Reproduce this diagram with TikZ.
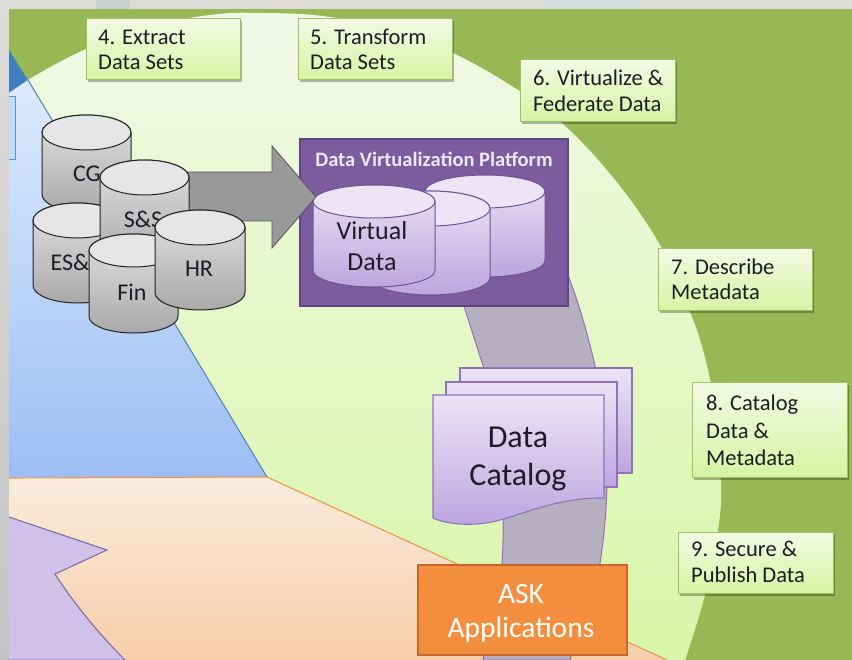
\documentclass[tikz,border=0pt]{standalone}
\usepackage{fontspec}
\setmainfont{Carlito}
\definecolor{dkgreen}{HTML}{98B855}
\definecolor{ink}{HTML}{1C1C28}
\definecolor{notetop}{HTML}{F3F9E4}
\definecolor{notebot}{HTML}{D6F4A2}
\definecolor{notebord}{HTML}{A2BF63}
\definecolor{cylA}{HTML}{E2E2E2}
\definecolor{cylB}{HTML}{A9A9A9}
\definecolor{cylT}{HTML}{E6E6E6}
\definecolor{cylE}{HTML}{222222}
\definecolor{vA}{HTML}{EAE2F4}
\definecolor{vB}{HTML}{BDA6DE}
\definecolor{vT}{HTML}{EBE5F5}
\definecolor{purpedge}{HTML}{6E5693}
\definecolor{docedge}{HTML}{8F72B8}
\definecolor{dA}{HTML}{EAE4F6}
\definecolor{dB}{HTML}{BDA6DF}
\definecolor{D0}{HTML}{C4C4C4}
\definecolor{D1}{HTML}{DEDCDA}
\definecolor{patchA}{HTML}{CDCFCF}
\definecolor{patchB}{HTML}{D3DAE2}
\definecolor{LGa}{HTML}{F2F8E6}
\definecolor{LGb}{HTML}{D8F6A8}
\definecolor{DKB}{HTML}{3F81BE}
\definecolor{BLa}{HTML}{DCEBFC}
\definecolor{BLb}{HTML}{9DBEF4}
\definecolor{BLe}{HTML}{4C7FB5}
\definecolor{ORa}{HTML}{F9ECDD}
\definecolor{ORb}{HTML}{F8CDAA}
\definecolor{ORe}{HTML}{EC954F}
\definecolor{PUa}{HTML}{CFC1E8}
\definecolor{PUe}{HTML}{7A64A4}
\definecolor{BOX}{HTML}{C4DAF9}
\definecolor{BOXe}{HTML}{5C93D0}
\definecolor{BND}{HTML}{B6AFC0}
\definecolor{PLT}{HTML}{7C5B9E}
\definecolor{PLTe}{HTML}{5E4780}
\definecolor{PLTt}{HTML}{EDE8F6}
\definecolor{ARW}{HTML}{999999}
\definecolor{ARWe}{HTML}{555555}
\definecolor{ASK}{HTML}{F38E3E}
\definecolor{ASKe}{HTML}{C6682B}
\tikzset{
  note/.style={draw=notebord,line width=1pt,top color=notetop,bottom color=notebot},
  notetext/.style={anchor=west,text=ink,font=\fontsize{22.5}{24}\selectfont,inner sep=0pt},
  graycyl/.style={draw=cylE,line width=1pt,top color=cylA,bottom color=cylB},
  purpcyl/.style={draw=purpedge,line width=1pt,top color=vA,bottom color=vB},
  graytop/.style={draw=cylE,line width=1pt,fill=cylT},
  purptop/.style={draw=purpedge,line width=1pt,fill=vT},
  shadowst/.style={fill=black,opacity=.28},
  doc/.style={draw=docedge,line width=1.1pt,top color=dA,bottom color=dB},
  cyltext/.style={text=ink,font=\fontsize{#1}{#1}\selectfont,inner sep=0pt},
}
% \cylinderdraw{style}{topstyle}{left}{right}{top}{ellipse bottom}{bottom}
\newcommand{\cylinderdraw}[7]{%
  \pgfmathsetmacro{\ccx}{(#3+#4)/2}%
  \pgfmathsetmacro{\crx}{(#4-#3)/2}%
  \pgfmathsetmacro{\cry}{(#6-#5)/2}%
  \pgfmathsetmacro{\ccy}{(#5+#6)/2}%
  \pgfmathsetmacro{\cby}{#7-\cry}%
  \path[#1] (#3,\ccy) -- (#3,\cby)
    .. controls (#3,\cby+.55*\cry) and (\ccx-.55*\crx,#7) .. (\ccx,#7)
    .. controls (\ccx+.55*\crx,#7) and (#4,\cby+.55*\cry) .. (#4,\cby)
    -- (#4,\ccy)
    .. controls (#4,\ccy-.55*\cry) and (\ccx+.55*\crx,#5) .. (\ccx,#5)
    .. controls (\ccx-.55*\crx,#5) and (#3,\ccy-.55*\cry) .. (#3,\ccy) -- cycle;
  \path[#2] (\ccx,\ccy) ellipse [x radius=\crx, y radius=\cry];
}
\begin{document}
\begin{tikzpicture}[x=1pt,y=-1pt]
\useasboundingbox (0,0) rectangle (852,660);
% photo margin
\fill[D1] (0,0) rectangle (852,9);
\fill[top color=D1,bottom color=D0] (0,0) rectangle (9,660);
\fill[patchA] (96,0) rectangle (130,9);
\fill[patchB] (545,0) rectangle (640,9);
% base
\fill[dkgreen] (9,9) rectangle (852,660);
% light green disc
\path[top color=LGa,bottom color=LGb]
  plot[smooth,tension=.7] coordinates {(28,80) (84,50) (150,27) (210,15) (262,13) (330,17) (400,33) (453,53) (518,90) (562,123) (615,180) (660,245) (685,300) (703,350) (715,410) (721,480) (718,530) (705,595) (685,660)}
  -- (267,660) -- (9,660) -- cycle;
% sectors
\path[fill=DKB] (9,50) -- (28,80) -- (9,93) -- cycle;
\path[top color=BLa,bottom color=BLb] (9,93) -- (28,80) -- (267,477) -- (9,478) -- cycle;
\draw[draw=BLe,line width=1pt] (28,80) -- (267,477);
\path[top color=ORa,bottom color=ORb] (9,478) -- (267,477) -- (667,660) -- (9,660) -- cycle;
\draw[draw=ORe,line width=1.1pt] (9,478) -- (267,477) -- (667,660);
\path[fill=PUa,draw=PUe,line width=1pt] (9,517) -- (107,550) -- (55,574) .. controls (75,605) and (100,635) .. (125,660) -- (9,660);
% left edge box
\path[fill=BOX,draw=BOXe,line width=1pt] (9,97) -- (15,97) -- (15,160) -- (9,160);
% curved band
\path[fill=BND,draw=docedge,line width=1pt]
  (462,300) .. controls (470,325) and (478,350) .. (486,375)
  .. controls (500,430) and (506,500) .. (502,563) -- (483,660) -- (570,660) -- (600,563)
  .. controls (610,500) and (610,430) .. (596,370)
  .. controls (588,335) and (578,300) .. (566,270) -- cycle;
% note boxes
\foreach \nn/\xa/\ya/\xb/\yb in {a/86/19/240/80,b/298/19/452/80,c/520/60/675/122,d/658/249/812/311,e/692/383/847/477,f/678/532/833/593}{
  \fill[shadowst] (\xa+1.5,\ya+2) rectangle (\xb+1.5,\yb+2.5);
  \path[note] (\xa,\ya) rectangle (\xb,\yb);
}
\node[notetext] (n4a) at (98,37) {4. Extract};
\node[notetext] (n4b) at (98,62) {Data Sets};
\node[notetext] (n5a) at (310,37) {5. Transform};
\node[notetext] (n5b) at (310,62) {Data Sets};
\node[notetext] (n6a) at (533,78) {6. Virtualize \&};
\node[notetext] (n6b) at (533,104) {Federate Data};
\node[notetext] (n7a) at (671,267) {7. Describe};
\node[notetext] (n7b) at (671,292) {Metadata};
\node[notetext] (n8a) at (706,405) {8. Catalog};
\node[notetext] (n8b) at (706,431) {Data \&};
\node[notetext] (n8c) at (706,458) {Metadata};
\node[notetext] (n9a) at (691,549) {9. Secure \&};
\node[notetext] (n9b) at (691,575) {Publish Data};
% platform box
\path[fill=PLT,draw=PLTe,line width=1.5pt] (300,139) rectangle (568,306);
\node[text=PLTt,font=\fontsize{20.5}{22}\bfseries\selectfont,inner sep=0pt] (plat) at (434,159) {Data Virtualization Platform};
% virtual cylinders
\cylinderdraw{purpcyl}{purptop}{425}{545}{175}{208}{277}
\cylinderdraw{purpcyl}{purptop}{370}{490}{191}{226}{295}
\cylinderdraw{purpcyl}{purptop}{313}{435}{185}{218}{287}
\node[cyltext=26] (vd1) at (372,231) {Virtual};
\node[cyltext=26] (vd2) at (372,262) {Data};
% big arrow
\path[fill=ARW,draw=ARWe,line width=.8pt] (180,172) -- (272,172) -- (272,146) -- (316,197) -- (272,248) -- (272,221) -- (180,221) -- cycle;
% gray cylinders
\cylinderdraw{graycyl}{graytop}{42}{131}{115}{150}{212}
\node[cyltext=24] (cg) at (87,174) {CG};
\cylinderdraw{graycyl}{graytop}{33}{122}{203}{238}{303}
\node[cyltext=24] (es) at (70,262) {ES\&};
\cylinderdraw{graycyl}{graytop}{100}{189}{160}{195}{262}
\node[cyltext=24] (ss) at (143,219) {S\&S};
\cylinderdraw{graycyl}{graytop}{89}{178}{234}{267}{333}
\node[cyltext=24] (fin) at (132,292) {Fin};
\cylinderdraw{graycyl}{graytop}{155}{245}{210}{245}{310}
\node[cyltext=24] (hr) at (199,269) {HR};
% documents
\path[doc] (460,368) rectangle (632,473);
\path[doc] (446,382) rectangle (617,487);
\path[doc] (433,395) -- (604,395) -- (604,498)
  .. controls (560,497) and (520,515) .. (500,520)
  .. controls (480,526) and (450,526) .. (433,518) -- cycle;
\node[text=ink,font=\fontsize{32}{32}\selectfont,inner sep=0pt] (dc1) at (518,437) {Data};
\node[text=ink,font=\fontsize{32}{32}\selectfont,inner sep=0pt] (dc2) at (518,477) {Catalog};
% ASK
\path[fill=ASK,draw=ASKe,line width=2pt] (418,565) rectangle (627,655);
\node[text=white,font=\fontsize{29.5}{29.5}\selectfont,inner sep=0pt] (ask1) at (521,594) {ASK};
\node[text=white,font=\fontsize{29.5}{29.5}\selectfont,inner sep=0pt] (ask2) at (521,630) {Applications};
\end{tikzpicture}
\end{document}
